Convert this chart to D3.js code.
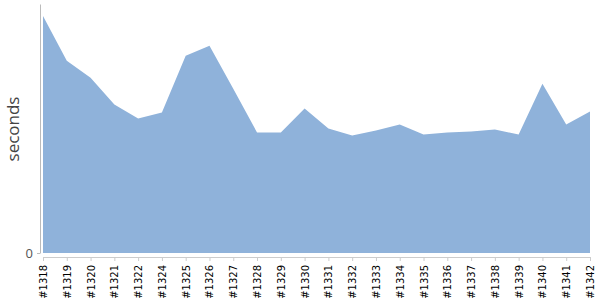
<!DOCTYPE html>
<meta charset="utf-8">
<style>
    html, body { margin: 0; padding: 0; background: #fff; }
</style>
<script src="https://d3js.org/d3.v7.min.js"></script>

<div id="chart"></div>

<script>

    // build numbers along the x axis (#1323 is absent)
    const builds = ["#1318","#1319","#1320","#1321","#1322","#1324","#1325","#1326","#1327","#1328",
                    "#1329","#1330","#1331","#1332","#1333","#1334","#1335","#1336","#1337","#1338",
                    "#1339","#1340","#1341","#1342"];

    // duration per build
    const seconds = [238, 193, 176, 149, 135, 141, 198, 208, 165, 121,
                     121, 145, 125, 118, 123, 129, 119, 121, 122, 124,
                     119, 170, 129, 142];

    const yTicks = [0];

    const width = 600, height = 300;
    const margin = {top: 4, right: 10, bottom: 47, left: 40};

    const svg = d3.select("#chart")
      .append("svg")
        .attr("width", width)
        .attr("height", height);

    const x = d3.scalePoint()
        .domain(builds)
        .range([43, 590]);

    const y = d3.scaleLinear()
        .domain([0, 250])
        .range([height - margin.bottom, margin.top]);

    const data = builds.map((b, i) => ({build: b, value: seconds[i]}));

    // the area
    const area = d3.area()
        .x(d => x(d.build))
        .y0(y(0))
        .y1(d => y(d.value));

    svg.append("path")
        .datum(data)
        .attr("d", area)
        .attr("fill", "#8fb2da");

    // x axis, a little below the area
    const xAxis = svg.append("g")
        .attr("transform", `translate(0, ${y(0) + 4})`)
        .call(d3.axisBottom(x).tickSize(4).tickSizeOuter(0));
    xAxis.select(".domain").attr("stroke", "#ccc");
    xAxis.selectAll(".tick line").attr("stroke", "#ccc");
    xAxis.selectAll("text")
        .attr("transform", "rotate(-90)")
        .attr("x", -8)
        .attr("y", 0)
        .attr("dy", "0.35em")
        .style("text-anchor", "end")
        .style("font-family", "DejaVu Sans")
        .style("font-size", "10px")
        .attr("fill", "#000");

    // y axis
    const yAxis = svg.append("g")
        .attr("transform", `translate(${margin.left}, 0)`)
        .call(d3.axisLeft(y).tickValues(yTicks).tickSize(3).tickSizeOuter(0));
    yAxis.select(".domain").attr("stroke", "#bbb");
    yAxis.selectAll(".tick line").attr("stroke", "#bbb");
    yAxis.selectAll("text")
        .attr("x", -7)
        .style("font-family", "Open Sans")
        .style("font-size", "13px")
        .attr("fill", "#555");

    // axis title
    svg.append("text")
        .attr("transform", "rotate(-90)")
        .attr("x", -129)
        .attr("y", 19)
        .attr("text-anchor", "middle")
        .style("font-family", "Open Sans")
        .style("font-size", "17px")
        .attr("fill", "#444")
        .text("seconds");

</script>
